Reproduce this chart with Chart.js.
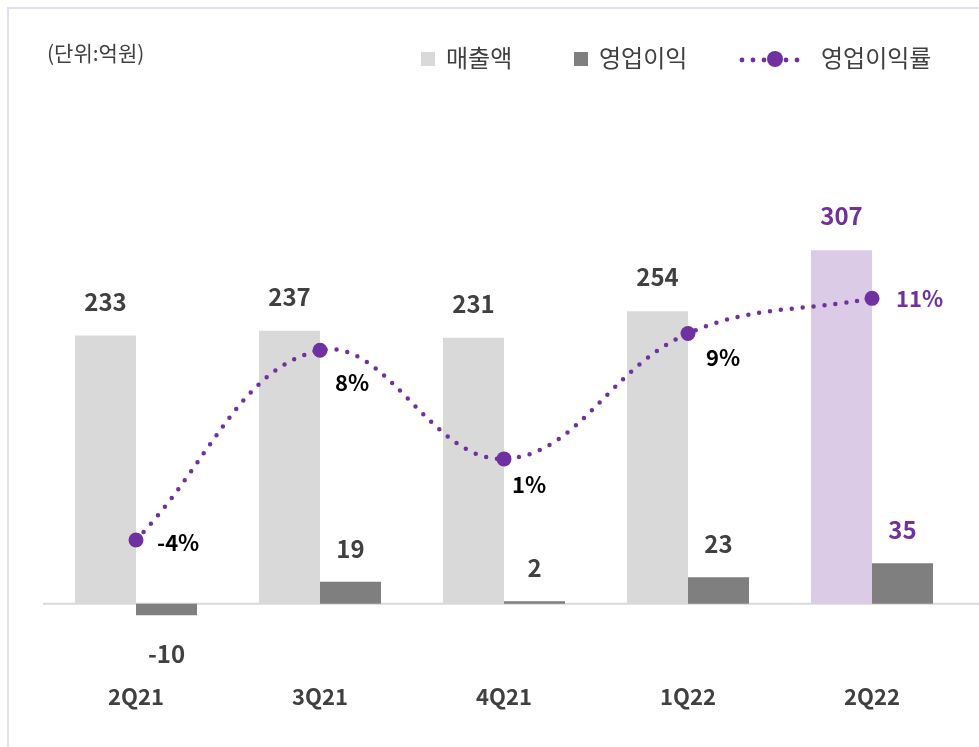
<!DOCTYPE html>
<html><head><meta charset="utf-8">
<script src="https://cdn.jsdelivr.net/npm/chart.js@4"></script>
<style>html,body{margin:0;padding:0;background:#fff;}#wrap{position:relative;width:979px;height:747px;}</style>
</head><body><div id="wrap"><canvas id="c" width="979" height="747"></canvas></div>
<script>
const categories = ['2Q21','3Q21','4Q21','1Q22','2Q22'];
const revenue = [233, 237, 231, 254, 307];
const opIncome = [-10, 19, 2, 23, 35];
const opMargin = [-4.4, 8.0, 0.9, 9.1, 11.4];
const marginLabels = ['-4%','8%','1%','9%','11%'];
const unitText = '(단위:억원)';
const seriesNames = ['매출액','영업이익','영업이익률'];

const FONT = "'Noto Sans CJK KR','Noto Sans',sans-serif";
const PURPLE = '#7030A0';
const revColors = ['#D9D9D9','#D9D9D9','#D9D9D9','#D9D9D9','#DCCBE6'];

const extras = {
  id:'extras',
  beforeDatasetsDraw(chart){
    const ctx = chart.ctx, y = chart.scales.y, zero = y.getPixelForValue(0);
    ctx.save();
    ctx.strokeStyle = '#D9D9D9'; ctx.lineWidth = 2;
    ctx.beginPath(); ctx.moveTo(43, zero); ctx.lineTo(979, zero); ctx.stroke();
    ctx.restore();
  },
  afterDraw(chart){
    const ctx = chart.ctx;
    ctx.save();
    ctx.strokeStyle = '#E6DDF0'; ctx.lineWidth = 2;
    ctx.beginPath(); ctx.moveTo(8, 747); ctx.lineTo(8, 8); ctx.lineTo(979, 8); ctx.stroke();
    ctx.fillStyle = '#404040'; ctx.textBaseline = 'middle'; ctx.textAlign = 'left';
    ctx.font = "21px " + FONT;
    ctx.fillText(unitText, 47, 53);
    ctx.font = "24px " + FONT;
    ctx.fillStyle = '#D9D9D9'; ctx.fillRect(421, 52, 14, 14);
    ctx.fillStyle = '#404040'; ctx.fillText(seriesNames[0], 446, 58);
    ctx.fillStyle = '#7F7F7F'; ctx.fillRect(574, 52, 14, 14);
    ctx.fillStyle = '#404040'; ctx.fillText(seriesNames[1], 599, 58);
    ctx.fillStyle = PURPLE;
    [742,753,764,786,797].forEach(x=>{ctx.beginPath();ctx.arc(x,60,2.4,0,Math.PI*2);ctx.fill();});
    ctx.beginPath(); ctx.arc(775,59,8,0,Math.PI*2); ctx.fill();
    ctx.fillStyle = '#404040'; ctx.fillText(seriesNames[2], 821, 58);
    ctx.font = "bold 24px " + FONT; ctx.textAlign = 'center';
    const mLine = chart.getDatasetMeta(0), mRev = chart.getDatasetMeta(1), mOp = chart.getDatasetMeta(2);
    mRev.data.forEach((b,i)=>{
      ctx.fillStyle = i===4 ? PURPLE : '#404040';
      ctx.fillText(String(revenue[i]), b.x, b.y - 34);
    });
    mOp.data.forEach((b,i)=>{
      ctx.fillStyle = i===4 ? PURPLE : '#404040';
      const v = opIncome[i];
      ctx.fillText(String(v), b.x, v < 0 ? b.y + 39 : b.y - 33);
    });
    const offs = [[21,3],[15,32],[8,26],[18,24],[24,0]];
    ctx.font = "bold 22px " + FONT;
    ctx.textAlign = 'left';
    mLine.data.forEach((p,i)=>{
      ctx.fillStyle = i===4 ? PURPLE : '#000000';
      ctx.fillText(marginLabels[i], p.x + offs[i][0], p.y + offs[i][1]);
    });
    ctx.restore();
  }
};

new Chart(document.getElementById('c'), {
  data: {
    labels: categories,
    datasets: [
      {type:'line', label:seriesNames[2], data:opMargin, yAxisID:'y1', order:0,
       borderColor:PURPLE, borderWidth:4.5, borderDash:[0,11], borderCapStyle:'round',
       tension:0.4, pointRadius:7.5, pointBackgroundColor:PURPLE, pointBorderWidth:0, fill:false},
      {type:'bar', label:seriesNames[0], data:revenue, yAxisID:'y', order:2,
       backgroundColor:revColors, barPercentage:1, categoryPercentage:0.663},
      {type:'bar', label:seriesNames[1], data:opIncome, yAxisID:'y', order:2,
       backgroundColor:'#7F7F7F', barPercentage:1, categoryPercentage:0.663}
    ]
  },
  options: {
    responsive:false, animation:false,
    layout:{padding:{left:44, right:15, top:100, bottom:23}},
    plugins:{legend:{display:false}, tooltip:{enabled:false}},
    scales:{
      x:{grid:{display:false, drawTicks:false}, border:{display:false},
         ticks:{padding:14, color:'#404040', font:{family:FONT, size:22, weight:'bold'}}},
      y:{display:false, min:-57.3, max:437.5},
      y1:{display:false, min:-12.88, max:24.37}
    }
  },
  plugins:[extras]
});
</script></body></html>
